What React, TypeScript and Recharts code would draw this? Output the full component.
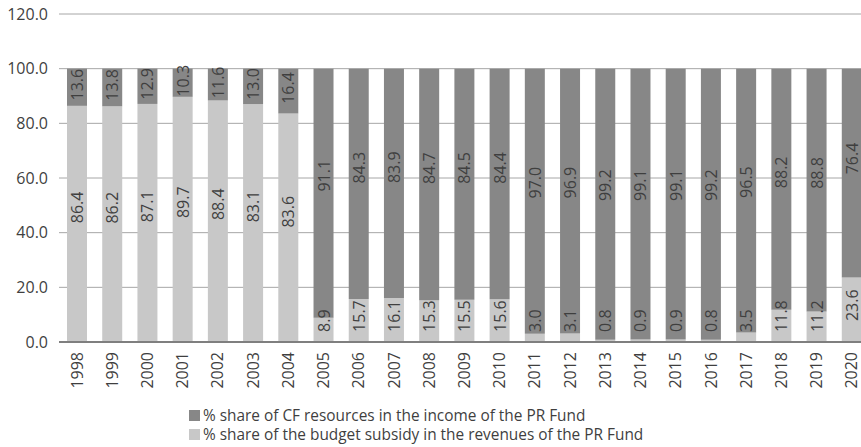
import { BarChart, Bar, XAxis, YAxis, CartesianGrid, Legend, LabelList } from 'recharts'

const years = ['1998', '1999', '2000', '2001', '2002', '2003', '2004', '2005', '2006', '2007', '2008', '2009', '2010', '2011', '2012', '2013', '2014', '2015', '2016', '2017', '2018', '2019', '2020']

// bar heights as drawn (2003 bar is drawn at ~87 even though its label reads 83.1)
const budgetShare = [86.4, 86.2, 87.1, 89.7, 88.4, 87.0, 83.6, 8.9, 15.7, 16.1, 15.3, 15.5, 15.6, 3.0, 3.1, 0.8, 0.9, 0.9, 0.8, 3.5, 11.8, 11.2, 23.6]
const budgetLabels = ['86.4', '86.2', '87.1', '89.7', '88.4', '83.1', '83.6', '8.9', '15.7', '16.1', '15.3', '15.5', '15.6', '3.0', '3.1', '0.8', '0.9', '0.9', '0.8', '3.5', '11.8', '11.2', '23.6']
const cfShare = [13.6, 13.8, 12.9, 10.3, 11.6, 13.0, 16.4, 91.1, 84.3, 83.9, 84.7, 84.5, 84.4, 97.0, 96.9, 99.2, 99.1, 99.1, 99.2, 96.5, 88.2, 88.8, 76.4]

const yTicks = [0, 20, 40, 60, 80, 100, 120]

const DARK = '#878787'
const LIGHT = '#c8c8c8'
const TEXT = '#3f3f3f'
const FONT = '"Open Sans", sans-serif'

const data = years.map((year, i) => ({
  year,
  budget: budgetShare[i],
  budgetLabel: budgetLabels[i],
  cf: cfShare[i],
  cfLabel: cfShare[i].toFixed(1),
}))

const textLen = (s: string) => (s.length - 1) * 9.2 + 4.3

function makeLabel(clampBottom: boolean) {
  return (props: any) => {
    const { x, y, width, height, value } = props
    const cx = x + width / 2
    const mid = y + height / 2
    let cy = mid - height * 0.07
    if (clampBottom) {
      const maxCy = y + height - 10 - textLen(String(value)) / 2
      if (cy > maxCy) cy = maxCy
    }
    return (
      <text
        x={cx}
        y={cy}
        transform={`rotate(-90, ${cx}, ${cy})`}
        textAnchor="middle"
        dominantBaseline="central"
        fill={TEXT}
        fontSize={16}
        fontFamily={FONT}
      >
        {value}
      </text>
    )
  }
}

const YearTick = (props: any) => {
  const { x, y, payload } = props
  const ty = y + 2
  return (
    <text
      x={x}
      y={ty}
      transform={`rotate(-90, ${x}, ${ty})`}
      textAnchor="end"
      dominantBaseline="central"
      fill={TEXT}
      fontSize={16}
      fontFamily={FONT}
    >
      {payload.value}
    </text>
  )
}

const legendItems = [
  { color: DARK, text: '% share of CF resources in the income of the PR Fund' },
  { color: LIGHT, text: '% share of the budget subsidy in the revenues of the PR Fund' },
]

const LegendBox = () => (
  <div style={{ height: 45, paddingLeft: 189, paddingTop: 4, fontFamily: FONT, fontSize: 15.4, color: TEXT, boxSizing: 'border-box' }}>
    {legendItems.map((it) => (
      <div key={it.text} style={{ display: 'flex', alignItems: 'center', height: 19, lineHeight: '19px' }}>
        <span style={{ display: 'inline-block', width: 11, height: 11, background: it.color, marginRight: 3 }} />
        <span>{it.text}</span>
      </div>
    ))}
  </div>
)

export default function App() {
  return (
    <div style={{ position: 'absolute', left: 0, top: 0, width: 861, height: 447, overflow: 'hidden', background: '#fff' }}>
      <BarChart
        width={869}
        height={447}
        data={data}
        margin={{ top: 14, right: 0, left: 0, bottom: 0 }}
        barSize={20}
      >
        <CartesianGrid vertical={false} stroke="#a6a6a6" />
        <XAxis
          dataKey="year"
          height={60}
          interval={0}
          tickLine={false}
          axisLine={{ stroke: '#7f7f7f', strokeWidth: 2 }}
          tick={<YearTick />}
        />
        <YAxis
          width={59}
          domain={[0, 120]}
          ticks={yTicks}
          tickFormatter={(v: number) => v.toFixed(1)}
          tickLine={false}
          axisLine={false}
          tickMargin={5}
          tick={{ fill: TEXT, fontSize: 16, fontFamily: FONT }}
        />
        <Legend verticalAlign="bottom" align="left" height={45} content={<LegendBox />} />
        <Bar dataKey="budget" stackId="a" fill={LIGHT} isAnimationActive={false}>
          <LabelList dataKey="budgetLabel" content={makeLabel(true)} />
        </Bar>
        <Bar dataKey="cf" stackId="a" fill={DARK} isAnimationActive={false}>
          <LabelList dataKey="cfLabel" content={makeLabel(false)} />
        </Bar>
      </BarChart>
    </div>
  )
}
